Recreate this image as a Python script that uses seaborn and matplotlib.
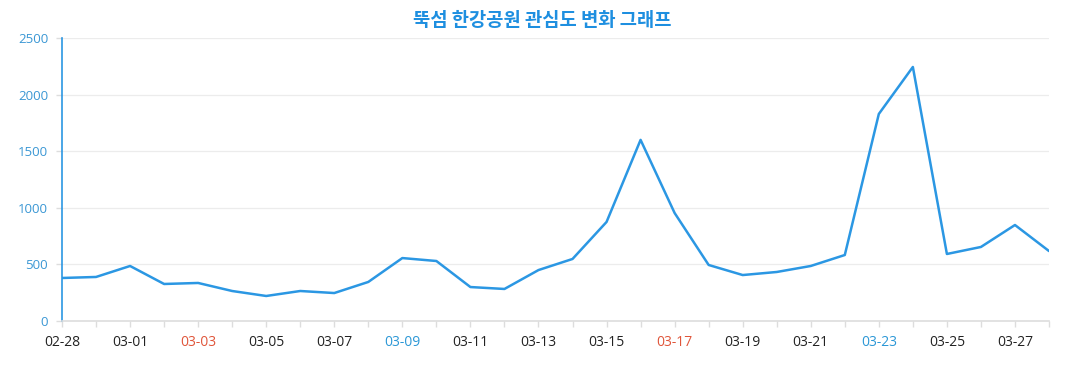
import matplotlib
matplotlib.use("Agg")
import matplotlib.pyplot as plt
import seaborn as sns
import pandas as pd
import numpy as np

dates = ["02-28", "02-29", "03-01", "03-02", "03-03", "03-04", "03-05", "03-06", "03-07", "03-08",
         "03-09", "03-10", "03-11", "03-12", "03-13", "03-14", "03-15", "03-16", "03-17", "03-18",
         "03-19", "03-20", "03-21", "03-22", "03-23", "03-24", "03-25", "03-26", "03-27", "03-28"]
values = [380, 389, 486, 327, 336, 265, 221, 265, 247, 345,
          556, 530, 300, 283, 450, 548, 875, 1600, 954, 495,
          406, 433, 486, 583, 1829, 2244, 592, 654, 848, 618]
y_ticks = [0, 500, 1000, 1500, 2000, 2500]
red_labels = ["03-03", "03-17"]
blue_labels = ["03-09", "03-23"]
title = "뚝섬 한강공원 관심도 변화 그래프"

sns.set_theme(style="white")
plt.rcParams['font.family'] = ['Open Sans', 'Noto Sans CJK KR', 'DejaVu Sans']

df = pd.DataFrame({"idx": range(len(dates)), "date": dates, "value": values})

fig = plt.figure(figsize=(10.77, 3.9), dpi=100)
ax = fig.add_axes([62/1077, 1-321/390, (1049-62)/1077, (321-38)/390])

sns.lineplot(data=df, x="idx", y="value", ax=ax, color="#2b97e3", linewidth=1.8)

ax.set_xlim(0, len(dates) - 1)
ax.set_ylim(0, 2500)
ax.set_yticks(y_ticks)
ax.set_yticklabels([str(v) for v in y_ticks], color="#3a97d4", fontsize=9.5)
major = list(range(0, len(dates), 2))
ax.set_xticks(major)
ax.set_xticks(range(len(dates)), minor=True)
labels = [dates[i] for i in major]
ax.set_xticklabels(labels, fontsize=10)
for t in ax.get_xticklabels():
    txt = t.get_text()
    if txt in red_labels:
        t.set_color("#e0553a")
    elif txt in blue_labels:
        t.set_color("#2b97d6")
    else:
        t.set_color("#222222")

ax.grid(axis="y", color="#ececec", linewidth=0.9)
ax.grid(axis="x", visible=False)
for s in ["top", "right"]:
    ax.spines[s].set_visible(False)
ax.spines["left"].set_color("#2b97e3")
ax.spines["left"].set_linewidth(1.2)
ax.spines["bottom"].set_color("#dddddd")
ax.spines["bottom"].set_linewidth(1.2)
ax.tick_params(axis="x", which="both", length=4, color="#dddddd", width=1, pad=6, bottom=True)
ax.tick_params(axis="y", length=4, color="#dddddd", width=1, pad=6, left=True)
ax.set_xlabel("")
ax.set_ylabel("")

fig.text(542/1077, 1-20/390, title, ha="center", va="center", fontsize=13.5, fontweight="bold",
         color="#1e8fe0", family=['Noto Sans CJK KR', 'DejaVu Sans'])

fig.savefig("out.png", dpi=100)
